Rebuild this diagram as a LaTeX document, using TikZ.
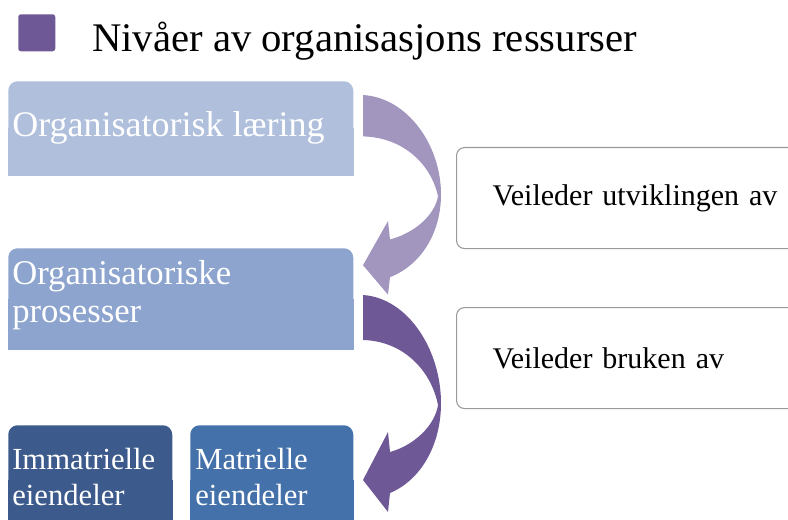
\documentclass[tikz,border=0pt]{standalone}
\usepackage{fontspec}
\setmainfont{Liberation Serif}
\usetikzlibrary{positioning, backgrounds}
\definecolor{clight}{HTML}{AFBFDC}
\definecolor{cmid}{HTML}{8CA4CE}
\definecolor{cdark}{HTML}{3C5A8B}
\definecolor{cdeep}{HTML}{4471A9}
\definecolor{cpale}{HTML}{A296BF}
\definecolor{cplum}{HTML}{6E5896}
\definecolor{cgrey}{HTML}{9A9A9A}
\def\upx{0.75pt}
\tikzset{
  every picture/.style={x=\upx, y=-\upx},
  tab/.style={fill=#1, rounded corners=7pt, inner sep=0pt, anchor=north west},
  tabtext/.style={text=white, align=left, anchor=base west, inner sep=0pt},
  guide/.style={draw=cgrey, line width=0.8pt, fill=white, rounded corners=6pt, anchor=north west,
    align=left, text width=300*\upx, inner xsep=36*\upx, inner ysep=0pt, minimum height=101*\upx,
    font=\fontsize{22.5pt}{27pt}\selectfont},
}

\begin{document}
\begin{tikzpicture}
  \useasboundingbox (0,0) rectangle (788,520);
  \clip (0,0) rectangle (788,520);

  % title
  \node[fill=cplum, rounded corners=2pt, minimum size=37*\upx, inner sep=0pt, anchor=north west] (bullet) at (18,14) {};
  \node[font=\fontsize{30.5pt}{36pt}\selectfont, anchor=base west, inner sep=0pt] (title) at (92,52) {Nivåer av organisasjons ressurser};

  % levels
  \node[tab=clight, minimum width=345*\upx, minimum height=94*\upx] (learn) at (8,81) {};
  \node[tab=cmid, minimum width=345*\upx, minimum height=101*\upx] (proc) at (8,248) {};
  \node[tab=cdark, minimum width=164*\upx, minimum height=110*\upx] (immat) at (8,425) {};
  \node[tab=cdeep, minimum width=163*\upx, minimum height=110*\upx] (mat) at (190,425) {};
  \begin{scope}[on background layer]
    \foreach \b/\c in {learn/clight, proc/cmid, immat/cdark, mat/cdeep}
      \fill[\c] (\b.west) rectangle (\b.south east);
  \end{scope}
  % base = last line
  \node[tabtext, font=\fontsize{27pt}{32pt}\selectfont] (learnT) at (12,137) {Organisatorisk læring};
  \node[tabtext, font=\fontsize{26pt}{28pt}\selectfont] (procT) at (12,322) {Organisatoriske\\prosesser};
  \node[tabtext, font=\fontsize{23pt}{27pt}\selectfont] (immatT) at (12,505) {Immatrielle\\eiendeler};
  \node[tabtext, font=\fontsize{23pt}{27pt}\selectfont] (matT) at (195,505) {Matrielle\\eiendeler};

  % turning arrows
  \foreach \c/\oy/\s in {cpale/95/0.92, cplum/295/1}
    \fill[\c, shift={(363,\oy)}, yscale=\s] (0,0) .. controls (45,3) and (78,55) .. (78,108)
      .. controls (78,150) and (58,185) .. (27,198) -- (25,217) -- (0,185) -- (25,137) -- (27,157)
      .. controls (52,150) and (72,130) .. (75,110) .. controls (68,75) and (40,46) .. (0,45) -- cycle;

  % guides
  \node[guide] (dev) at (456,147) {Veileder utviklingen av};
  \node[guide] (use) at (456,307) {Veileder bruken av};
\end{tikzpicture}
\end{document}
